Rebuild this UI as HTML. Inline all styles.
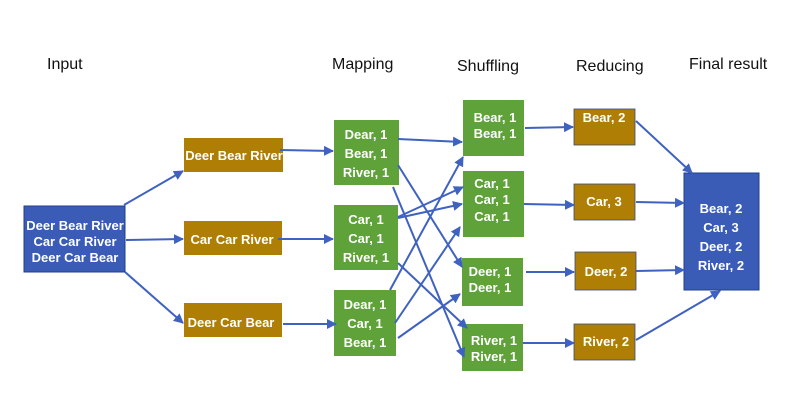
<!DOCTYPE html>
<html><head><meta charset="utf-8"><style>
html,body{margin:0;padding:0;background:#fff;width:790px;height:414px;overflow:hidden}
svg text{font-family:"Liberation Sans",sans-serif}
.h{font-size:16px;fill:#111}
.w{font-size:13px;fill:#fff;font-weight:bold}
</style></head><body>
<svg width="790" height="414" viewBox="0 0 790 414" xmlns="http://www.w3.org/2000/svg">
<defs><marker id="a" viewBox="0 0 10 10" refX="9" refY="5" markerWidth="5" markerHeight="5" orient="auto"><path d="M0,0L10,5L0,10z" fill="#3f62c0"/></marker></defs>
<text class="h" x="47" y="69">Input</text>
<text class="h" x="332" y="69">Mapping</text>
<text class="h" x="457" y="71">Shuffling</text>
<text class="h" x="576" y="71">Reducing</text>
<text class="h" x="689" y="69">Final result</text>
<g stroke="#1f3f8f" stroke-width="1">
<rect x="24" y="206" width="101" height="66" fill="#3a5cb6"/>
<rect x="684" y="173" width="75" height="117" fill="#3a5cb6"/>
</g>
<g fill="#af7f05">
<rect x="184" y="138" width="99" height="34"/>
<rect x="184" y="221" width="98" height="34"/>
<rect x="184" y="303" width="98" height="34"/>
</g>
<g fill="#af7f05" stroke="#3a4a7a" stroke-width="0.8">
<rect x="574" y="109" width="61" height="36"/>
<rect x="574" y="184" width="61" height="36"/>
<rect x="575" y="252" width="61" height="38"/>
<rect x="574" y="324" width="61" height="36"/>
</g>
<g fill="#5fa23a">
<rect x="334" y="120" width="65" height="65"/>
<rect x="334" y="205" width="64" height="65"/>
<rect x="334" y="290" width="62" height="66"/>
<rect x="463" y="100" width="61" height="56"/>
<rect x="463" y="171" width="61" height="66"/>
<rect x="462" y="258" width="61" height="48"/>
<rect x="462" y="324" width="61" height="47"/>
</g>
<g stroke="#3f62c0" stroke-width="2" fill="none" marker-end="url(#a)">
<line x1="124" y1="205" x2="183" y2="171"/>
<line x1="126" y1="240" x2="183" y2="239"/>
<line x1="125" y1="272" x2="183" y2="323"/>
<line x1="280" y1="150" x2="333" y2="151"/>
<line x1="278" y1="239" x2="333" y2="239"/>
<line x1="283" y1="324" x2="336" y2="324"/>
<line x1="398" y1="139" x2="462" y2="142"/>
<line x1="398" y1="165" x2="462" y2="267"/>
<line x1="393" y1="187" x2="464" y2="357"/>
<line x1="398" y1="217" x2="463" y2="187"/>
<line x1="398" y1="218" x2="462" y2="204"/>
<line x1="398" y1="263" x2="467" y2="328"/>
<line x1="390" y1="290" x2="463" y2="157"/>
<line x1="395" y1="323" x2="460" y2="227"/>
<line x1="398" y1="338" x2="460" y2="294"/>
<line x1="525" y1="128" x2="573" y2="127"/>
<line x1="524" y1="204" x2="574" y2="205"/>
<line x1="526" y1="272" x2="574" y2="272"/>
<line x1="523" y1="343" x2="574" y2="343"/>
<line x1="636" y1="121" x2="692" y2="173"/>
<line x1="636" y1="202" x2="684" y2="203"/>
<line x1="636" y1="271" x2="684" y2="270"/>
<line x1="636" y1="340" x2="720" y2="291"/>
</g>
<g class="w" text-anchor="middle">
<text class="w" x="75" y="230">Deer Bear River</text>
<text class="w" x="75" y="246">Car Car River</text>
<text class="w" x="75" y="262">Deer Car Bear</text>
<text class="w" x="234" y="160">Deer Bear River</text>
<text class="w" x="232" y="244">Car Car River</text>
<text class="w" x="231" y="327">Deer Car Bear</text>
<text class="w" x="366" y="139">Dear, 1</text>
<text class="w" x="366" y="158">Bear, 1</text>
<text class="w" x="366" y="177">River, 1</text>
<text class="w" x="366" y="224">Car, 1</text>
<text class="w" x="366" y="243">Car, 1</text>
<text class="w" x="366" y="262">River, 1</text>
<text class="w" x="365" y="309">Dear, 1</text>
<text class="w" x="365" y="328">Car, 1</text>
<text class="w" x="365" y="347">Bear, 1</text>
<text class="w" x="495" y="122">Bear, 1</text>
<text class="w" x="495" y="138">Bear, 1</text>
<text class="w" x="492" y="188">Car, 1</text>
<text class="w" x="492" y="204">Car, 1</text>
<text class="w" x="492" y="221">Car, 1</text>
<text class="w" x="490" y="276">Deer, 1</text>
<text class="w" x="490" y="292">Deer, 1</text>
<text class="w" x="494" y="345">River, 1</text>
<text class="w" x="494" y="361">River, 1</text>
<text class="w" x="604" y="122">Bear, 2</text>
<text class="w" x="604" y="206">Car, 3</text>
<text class="w" x="606" y="276">Deer, 2</text>
<text class="w" x="606" y="346">River, 2</text>
<text class="w" x="721" y="213">Bear, 2</text>
<text class="w" x="721" y="232">Car, 3</text>
<text class="w" x="721" y="251">Deer, 2</text>
<text class="w" x="721" y="270">River, 2</text>
</g>
</svg>
</body></html>
